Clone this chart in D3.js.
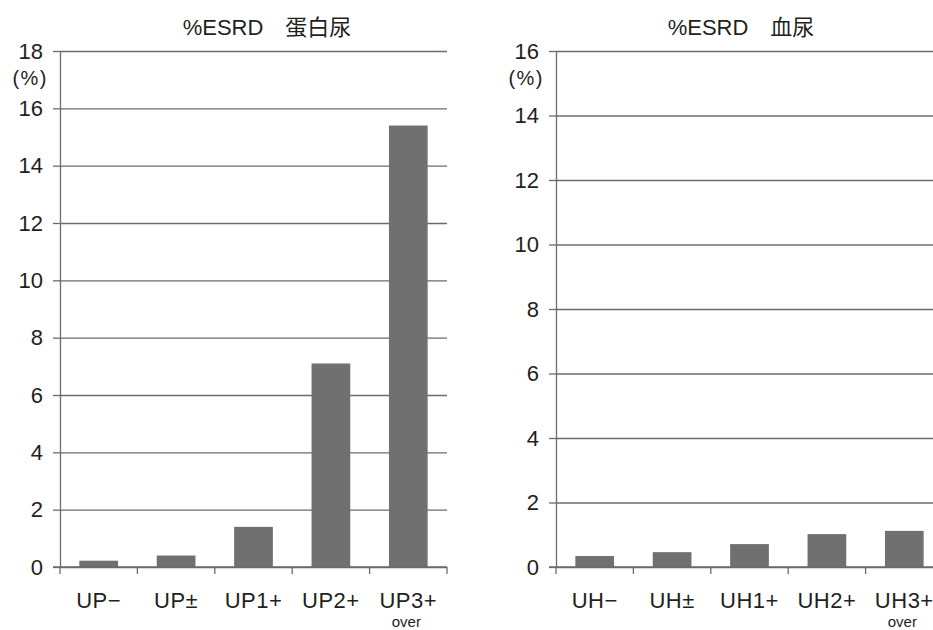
<!DOCTYPE html>
<html>
<head>
<meta charset="utf-8">
<script src="https://cdn.jsdelivr.net/npm/d3@7"></script>
<style>
  html, body { margin: 0; padding: 0; background: #fff; overflow: hidden; }
  svg { display: block; }
  text { fill: #231f20; font-family: "Liberation Sans", Arial, "Noto Sans CJK JP", sans-serif; }
</style>
</head>
<body>
<svg id="chart" width="933" height="630"></svg>
<script>
// Proteinuria panel
const proteinTitle = "%ESRD\u3000蛋白尿";
const proteinCategories = ["UP\u2212", "UP\u00b1", "UP1+", "UP2+", "UP3+"];
const proteinValues = [0.22, 0.4, 1.4, 7.1, 15.4];
const proteinTicks = [0, 2, 4, 6, 8, 10, 12, 14, 16, 18];

// Hematuria panel
const hematuriaTitle = "%ESRD\u3000血尿";
const hematuriaCategories = ["UH\u2212", "UH\u00b1", "UH1+", "UH2+", "UH3+"];
const hematuriaValues = [0.34, 0.46, 0.71, 1.02, 1.12];
const hematuriaTicks = [0, 2, 4, 6, 8, 10, 12, 14, 16];

const unitLabel = "(%)";
const subLabel = "over"; // second line under the last category

const svg = d3.select("#chart");

function drawPanel(cfg) {
  const g = svg.append("g");
  const x = d3.scaleBand()
    .domain(cfg.categories)
    .range([cfg.x0, cfg.x1])
    .paddingInner(0.5)
    .paddingOuter(0.25);
  const yMax = d3.max(cfg.ticks);
  const y = d3.scaleLinear().domain([0, yMax]).range([cfg.yBottom, cfg.yTop]);

  // horizontal gridlines (drawn behind bars)
  const grid = g.append("g")
    .attr("transform", `translate(${cfg.x0},0)`)
    .call(d3.axisLeft(y).tickValues(cfg.ticks).tickSize(-(cfg.x1 - cfg.x0)).tickFormat(""));
  grid.select(".domain").remove();
  grid.selectAll("line").attr("stroke", "#6e6a6a").attr("stroke-width", 1.3);

  // bars
  g.append("g").selectAll("rect")
    .data(cfg.values)
    .join("rect")
    .attr("x", (d, i) => x(cfg.categories[i]))
    .attr("width", x.bandwidth())
    .attr("y", d => y(d))
    .attr("height", d => y(0) - y(d))
    .attr("fill", "#707070");

  // y axis with stubs and labels
  const ya = g.append("g")
    .attr("transform", `translate(${cfg.x0},0)`)
    .call(d3.axisLeft(y).tickValues(cfg.ticks).tickSize(7).tickPadding(10).tickSizeOuter(0));
  ya.select(".domain").attr("stroke", "#6e6a6a").attr("stroke-width", 1.3);
  ya.selectAll("line").attr("stroke", "#6e6a6a").attr("stroke-width", 1.3);
  ya.selectAll("text").style("font-size", "22px").attr("fill", "#231f20");

  // x baseline with boundary ticks
  g.append("line")
    .attr("x1", cfg.x0 - 7).attr("x2", cfg.x1)
    .attr("y1", y(0)).attr("y2", y(0))
    .attr("stroke", "#6e6a6a").attr("stroke-width", 1.3);
  const bounds = cfg.categories.map(c => x(c) - x.step() * x.paddingOuter())
    .concat([cfg.x1]);
  g.append("g").selectAll("line")
    .data(bounds)
    .join("line")
    .attr("x1", d => d).attr("x2", d => d)
    .attr("y1", y(0)).attr("y2", y(0) + 7)
    .attr("stroke", "#6e6a6a").attr("stroke-width", 1.3);

  // category labels
  g.append("g").selectAll("text")
    .data(cfg.categories)
    .join("text")
    .attr("x", d => x(d) + x.bandwidth() / 2)
    .attr("y", 608)
    .attr("text-anchor", "middle")
    .style("font-size", "22px")
    .style("letter-spacing", "0.5px")
    .text(d => d);
  const last = cfg.categories[cfg.categories.length - 1];
  g.append("text")
    .attr("x", x(last) + x.bandwidth() / 2 - 2)
    .attr("y", 627)
    .attr("text-anchor", "middle")
    .style("font-size", "15px")
    .text(subLabel);

  // unit label
  g.append("text")
    .attr("x", cfg.x0 - 12)
    .attr("y", 78)
    .attr("dy", "0.35em")
    .attr("text-anchor", "end")
    .style("font-size", "20px")
    .style("letter-spacing", "1.5px")
    .text(unitLabel);

  // title
  g.append("text")
    .attr("x", cfg.titleX)
    .attr("y", 35)
    .attr("text-anchor", "middle")
    .style("font-size", "22px")
    .text(cfg.title);
}

drawPanel({
  title: proteinTitle, categories: proteinCategories, values: proteinValues, ticks: proteinTicks,
  x0: 60, x1: 447, yTop: 51, yBottom: 567, titleX: 267
});
drawPanel({
  title: hematuriaTitle, categories: hematuriaCategories, values: hematuriaValues, ticks: hematuriaTicks,
  x0: 556, x1: 943, yTop: 51, yBottom: 567, titleX: 741
});
</script>
</body>
</html>
